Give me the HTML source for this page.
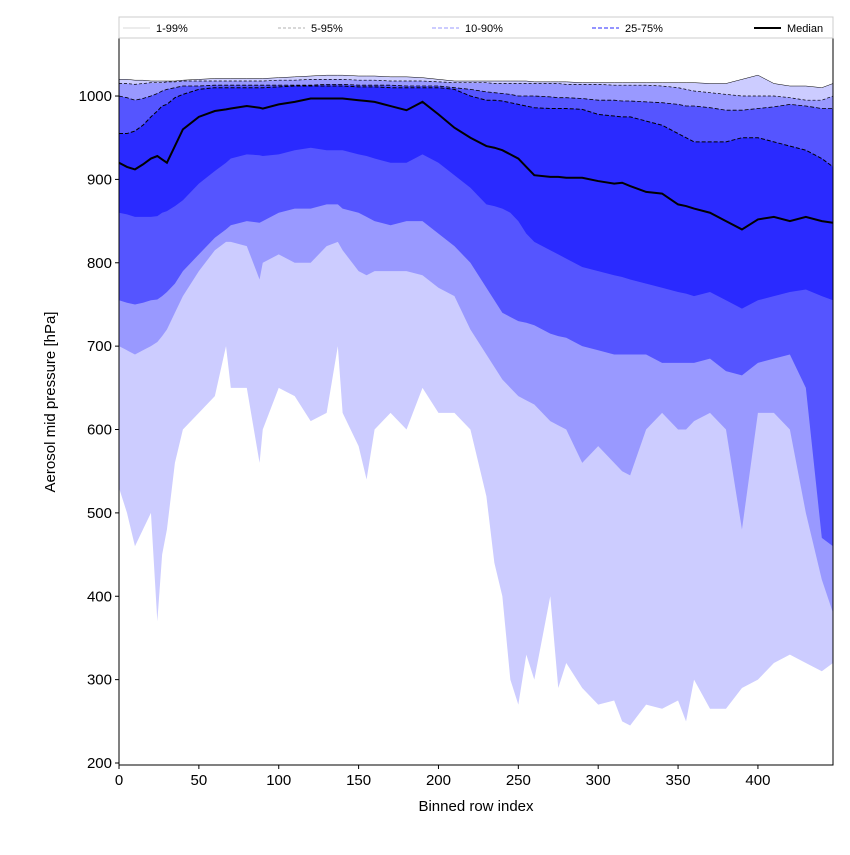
<!DOCTYPE html>
<html><head><meta charset="utf-8"><style>
body{margin:0;background:#fff}
svg{font-family:"Liberation Sans","DejaVu Sans",sans-serif}
</style></head><body>
<svg id="c" width="850" height="850"></svg>
<script>
const xs=[0,5,10,15,20,24,27,30,35,40,50,60,67,70,80,88,90,100,110,120,130,137,140,150,155,160,170,180,190,200,210,220,230,235,240,245,250,255,260,270,275,280,290,300,310,315,320,330,340,350,355,360,370,380,390,400,410,420,430,440,447];
const median=[920,915,912,918,925,928,924,920,940,960,975,982,984,985,988,986,985,990,993,997,997,997,997,995,994,993,988,983,993,978,962,950,940,938,935,930,925,915,905,903,903,902,902,898,895,896,892,885,883,870,868,865,860,850,840,852,855,850,855,850,848];
const p75=[955,955,958,965,975,982,988,990,998,1002,1008,1010,1010,1010,1010,1010,1010,1011,1012,1012,1012,1012,1012,1011,1011,1011,1010,1010,1010,1010,1008,1000,995,995,994,992,990,988,986,985,985,985,984,978,976,975,975,970,965,955,950,945,945,945,950,950,945,940,935,925,915];
const p25=[860,858,855,855,855,856,860,862,868,875,895,910,920,925,930,929,928,930,935,938,935,935,935,930,928,925,920,920,930,920,905,890,870,868,865,860,850,835,825,815,810,805,795,790,785,783,780,775,770,765,763,760,765,755,745,755,760,765,768,760,755];
const p90=[1000,998,995,997,1000,1003,1006,1008,1010,1012,1012,1013,1013,1013,1013,1013,1013,1013,1013,1013,1014,1014,1014,1013,1013,1013,1013,1012,1012,1012,1010,1008,1005,1004,1003,1002,1000,1000,1000,999,998,998,997,995,995,994,994,993,992,990,988,988,986,983,983,985,987,990,988,985,985];
const p10=[755,752,750,752,755,756,760,765,775,790,810,830,840,845,850,848,850,860,865,865,870,870,865,860,855,850,845,850,850,835,820,800,770,755,740,735,730,728,725,715,712,710,700,695,690,690,690,690,680,680,680,680,685,670,665,680,685,690,650,470,460];
const p95=[1015,1015,1014,1015,1016,1016,1016,1017,1017,1018,1018,1018,1018,1018,1018,1018,1018,1019,1019,1020,1020,1020,1020,1019,1019,1019,1018,1018,1018,1017,1016,1016,1016,1015,1015,1015,1015,1015,1015,1015,1015,1014,1014,1014,1013,1013,1013,1013,1012,1010,1008,1006,1004,1002,1000,1000,1000,998,995,995,1000];
const p5=[700,695,690,695,700,705,712,720,740,760,790,815,825,825,820,780,800,810,800,800,820,825,815,790,785,790,790,790,785,770,760,720,690,675,660,650,640,635,630,610,605,600,560,580,560,550,545,600,620,600,600,610,620,600,480,620,620,600,500,420,380];
const p99=[1020,1020,1019,1019,1018,1018,1018,1018,1018,1019,1020,1021,1021,1021,1021,1021,1021,1022,1023,1024,1025,1025,1025,1024,1024,1024,1023,1023,1022,1020,1018,1018,1018,1018,1018,1018,1018,1018,1017,1017,1017,1017,1016,1016,1016,1016,1016,1016,1016,1016,1016,1016,1015,1015,1020,1025,1015,1012,1012,1010,1015];
const p1=[530,500,460,480,500,370,450,480,560,600,620,640,700,650,650,560,600,650,640,610,620,700,620,580,540,600,620,600,650,620,620,600,520,440,400,300,270,330,300,400,290,320,290,270,275,250,245,270,265,275,250,300,265,265,290,300,320,330,320,310,320];
const xTicks=[0,50,100,150,200,250,300,350,400];
const yTicks=[200,300,400,500,600,700,800,900,1000];
const L=119,R=833,T=38,B=765,X0=0,X1=447,Y0=197.6,Y1=1069.6;
const sx=v=>L+(v-X0)/(X1-X0)*(R-L);
const sy=v=>B-(v-Y0)/(Y1-Y0)*(B-T);
const svg=document.getElementById('c');const NS='http://www.w3.org/2000/svg';
function mk(t,a,p){const e=document.createElementNS(NS,t);for(const k in a)e.setAttribute(k,a[k]);(p||svg).appendChild(e);return e;}
const clip=mk('clipPath',{id:'cp'});mk('rect',{x:L,y:T,width:R-L,height:B-T},clip);
const g=mk('g',{'clip-path':'url(#cp)'});
function band(hi,lo,col,name){let d='M'+xs.map((x,i)=>sx(x)+','+sy(hi[i])).join('L');for(let i=xs.length-1;i>=0;i--)d+='L'+sx(xs[i])+','+sy(lo[i]);
const e=mk('path',{d:d+'Z',fill:col},g);}
function line(a,col,w,dash,name){const e=mk('path',{d:'M'+xs.map((x,i)=>sx(x)+','+sy(a[i])).join('L'),fill:'none',stroke:col,'stroke-width':w,'stroke-dasharray':dash||'none'},g);}
band(p99,p1,'#ccccff','band-1-99');band(p95,p5,'#9999ff','band-5-95');band(p90,p10,'#5555ff','band-10-90');band(p75,p25,'#2a2aff','band-25-75');
line(p99,'#000',0.5,null,'line-p99');line(p95,'#000',0.7,'3,2','line-p95');line(p90,'#000',0.8,'4,2','line-p90');line(p75,'#000',1,'4,2','line-p75');
line(median,'#000',2,null,'median-line');
const fr=mk('rect',{x:L,y:T,width:R-L,height:B-T,fill:'none',stroke:'#000','stroke-width':1});
xTicks.forEach(v=>{mk('line',{x1:sx(v),x2:sx(v),y1:B,y2:B+4,stroke:'#000'});const t=mk('text',{x:sx(v),y:B+20,'text-anchor':'middle','font-size':15});t.textContent=v;});
yTicks.forEach(v=>{mk('line',{x1:L-4,x2:L,y1:sy(v),y2:sy(v),stroke:'#000'});const t=mk('text',{x:L-7,y:sy(v)+5,'text-anchor':'end','font-size':15});t.textContent=v;});
let t=mk('text',{x:476,y:811,'text-anchor':'middle','font-size':15});t.textContent='Binned row index';
t=mk('text',{x:55,y:402,'text-anchor':'middle','font-size':15,transform:'rotate(-90 55 402)'});t.textContent='Aerosol mid pressure [hPa]';
const lg=mk('g',{});
mk('rect',{x:119,y:17,width:714,height:21,fill:'#fff',stroke:'#ccc'},lg);
const ents=[[123,'1-99%','#ccc',0.8,null],[278,'5-95%','#999',0.8,'3,2'],[432,'10-90%','#99f',1,'4,2'],[592,'25-75%','#55f',1.3,'4,2'],[754,'Median','#000',2,null]];
ents.forEach(e=>{const gg=mk('g',{},lg);
mk('line',{x1:e[0],x2:e[0]+27,y1:28,y2:28,stroke:e[2],'stroke-width':e[3],'stroke-dasharray':e[4]||'none'},gg);
const tt=mk('text',{x:e[0]+33,y:32,'font-size':11},gg);tt.textContent=e[1];});
</script>
</body></html>
